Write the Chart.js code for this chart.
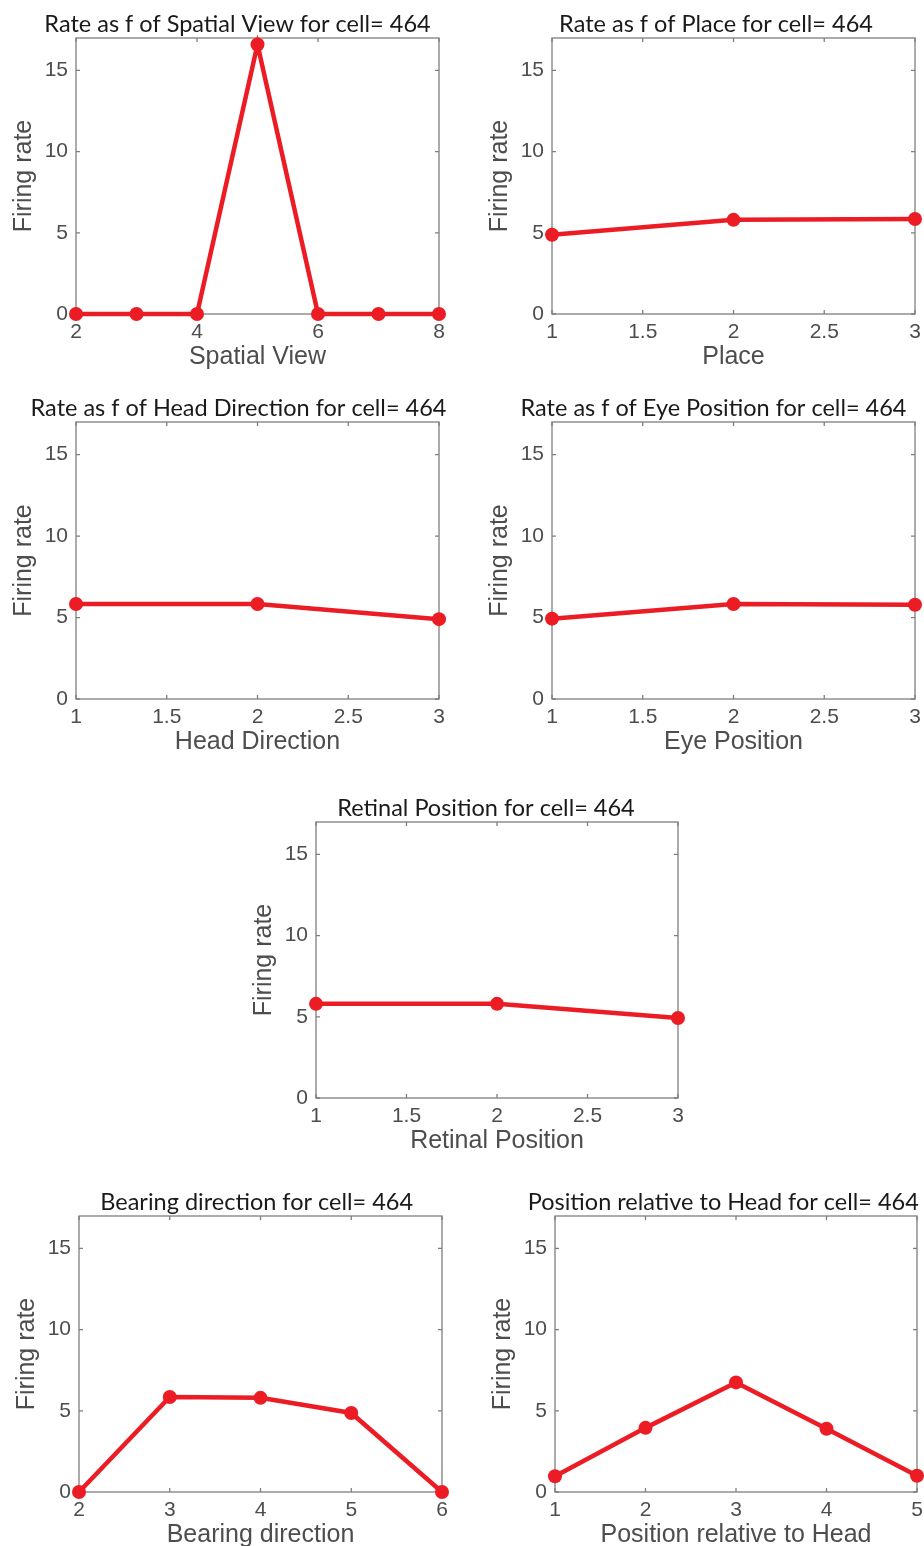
<!DOCTYPE html>
<html>
<head>
<meta charset="utf-8">
<script src="https://cdn.jsdelivr.net/npm/chart.js@4.4.0/dist/chart.umd.min.js"></script>
<style>
  html, body { margin: 0; padding: 0; background: #fff; overflow: hidden; }
  body { width: 924px; height: 1546px; position: relative; }
  canvas { position: absolute; }
</style>
</head>
<body>
<script>
// values (cell 464)
const spatialViewX = [2, 3, 4, 5, 6, 7, 8];
const spatialViewRate = [0, 0, 0, 16.6, 0, 0, 0];

const placeX = [1, 2, 3];
const placeRate = [4.88, 5.8, 5.85];

const headDirX = [1, 2, 3];
const headDirRate = [5.83, 5.83, 4.9];

const eyePosX = [1, 2, 3];
const eyePosRate = [4.93, 5.83, 5.78];

const retinalX = [1, 2, 3];
const retinalRate = [5.8, 5.8, 4.93];

const bearingX = [2, 3, 4, 5, 6];
const bearingRate = [0, 5.85, 5.8, 4.87, 0];

const relHeadX = [1, 2, 3, 4, 5];
const relHeadRate = [0.97, 3.95, 6.75, 3.9, 1.0];

const yTicks = [0, 5, 10, 15];
const yMax = 17;

// panels: text + which arrays, then where the axes box sits on the page
const panels = [
  { title: 'Rate as f of Spatial View for cell= 464', xLabel: 'Spatial View', xs: spatialViewX, ys: spatialViewRate, xMin: 2, xMax: 8, xStep: 2, box: [76, 38, 439, 314], tc: 237.5 },
  { title: 'Rate as f of Place for cell= 464', xLabel: 'Place', xs: placeX, ys: placeRate, xMin: 1, xMax: 3, xStep: 0.5, box: [552, 38, 915, 314], tc: 716 },
  { title: 'Rate as f of Head Direction for cell= 464', xLabel: 'Head Direction', xs: headDirX, ys: headDirRate, xMin: 1, xMax: 3, xStep: 0.5, box: [76, 422, 439, 699], tc: 238.5 },
  { title: 'Rate as f of Eye Position for cell= 464', xLabel: 'Eye Position', xs: eyePosX, ys: eyePosRate, xMin: 1, xMax: 3, xStep: 0.5, box: [552, 422, 915, 699], tc: 713.5 },
  { title: 'Retinal Position for cell= 464', xLabel: 'Retinal Position', xs: retinalX, ys: retinalRate, xMin: 1, xMax: 3, xStep: 0.5, box: [316, 822, 678, 1098], tc: 486 },
  { title: 'Bearing direction for cell= 464', xLabel: 'Bearing direction', xs: bearingX, ys: bearingRate, xMin: 2, xMax: 6, xStep: 1, box: [79, 1216, 442, 1492], tc: 256.7 },
  { title: 'Position relative to Head for cell= 464', xLabel: 'Position relative to Head', xs: relHeadX, ys: relHeadRate, xMin: 1, xMax: 5, xStep: 1, box: [555, 1216, 917, 1492], tc: 723.3 }
];

const RED = '#ec1c24';
const AXIS = '#7f7f7f';
const TXT = '#4d4d4d';
const Wy = 68;   // y axis strip width
const Hx = 60;   // x axis strip height
const TITLE_H = 36;

// matlab-ish box with inward ticks on all four sides
const matlabBox = {
  id: 'matlabBox',
  beforeDatasetsDraw(chart) {
    const { ctx, chartArea: { left, right, top, bottom }, scales: { x, y } } = chart;
    ctx.save();
    ctx.strokeStyle = AXIS;
    ctx.lineWidth = 1.3;
    ctx.strokeRect(left, top, right - left, bottom - top);
    ctx.beginPath();
    x.ticks.forEach(t => {
      const px = x.getPixelForValue(t.value);
      ctx.moveTo(px, bottom); ctx.lineTo(px, bottom - 4);
      ctx.moveTo(px, top); ctx.lineTo(px, top + 4);
    });
    y.ticks.forEach(t => {
      const py = y.getPixelForValue(t.value);
      ctx.moveTo(left, py); ctx.lineTo(left + 4, py);
      ctx.moveTo(right, py); ctx.lineTo(right - 4, py);
    });
    ctx.stroke();
    ctx.restore();
  }
};

// title centred where the figure has it (not always over the axes)
const panelTitle = {
  id: 'panelTitle',
  afterDraw(chart, args, opts) {
    const { ctx, chartArea } = chart;
    ctx.save();
    ctx.font = '23.5px Lato';
    ctx.fillStyle = '#1a1a1a';
    ctx.textAlign = 'center';
    ctx.textBaseline = 'alphabetic';
    ctx.fillText(opts.text, opts.x, chartArea.top - 6);
    ctx.restore();
  }
};

panels.forEach(p => {
  const [pl, pt, pr, pb] = p.box;
  const cl = pl - Wy;
  const cr = Math.max(pr + 12, 2 * p.tc - cl);
  const cv = document.createElement('canvas');
  cv.width = Math.round(cr - cl);
  cv.height = Math.round((pb - pt) + TITLE_H + Hx);
  cv.style.left = cl + 'px';
  cv.style.top = (pt - TITLE_H) + 'px';
  document.body.appendChild(cv);

  new Chart(cv, {
    type: 'line',
    data: {
      datasets: [{
        data: p.xs.map((v, i) => ({ x: v, y: p.ys[i] })),
        borderColor: RED,
        backgroundColor: RED,
        borderWidth: 4.5,
        pointRadius: 7,
        pointBorderWidth: 0,
        pointBackgroundColor: RED,
        tension: 0,
        clip: false
      }]
    },
    options: {
      responsive: false,
      animation: false,
      layout: { padding: { left: 0, right: cv.width - (pr - cl), top: TITLE_H, bottom: 0 } },
      plugins: {
        legend: { display: false },
        tooltip: { enabled: false },
        title: { display: false },
        panelTitle: { text: p.title, x: p.tc - cl }
      },
      scales: {
        x: {
          type: 'linear',
          min: p.xMin,
          max: p.xMax,
          afterFit: s => { s.height = Hx; },
          grid: { display: false, drawTicks: false },
          border: { display: false },
          ticks: {
            stepSize: p.xStep,
            autoSkip: false,
            maxRotation: 0,
            color: TXT,
            padding: 6,
            font: { family: 'Liberation Sans', size: 21 },
            callback: v => String(Number(v.toFixed(2)))
          },
          title: {
            display: true,
            text: p.xLabel,
            color: TXT,
            font: { family: 'Liberation Sans', size: 25 },
            padding: { top: 0, bottom: 2 }
          }
        },
        y: {
          min: 0,
          max: yMax,
          afterFit: s => { s.width = Wy; },
          afterBuildTicks: s => { s.ticks = yTicks.map(v => ({ value: v })); },
          grid: { display: false, drawTicks: false },
          border: { display: false },
          ticks: {
            color: TXT,
            padding: 8,
            font: { family: 'Liberation Sans', size: 21 }
          },
          title: {
            display: true,
            text: 'Firing rate',
            color: TXT,
            font: { family: 'Liberation Sans', size: 25 },
            padding: { top: 1, bottom: 0 }
          }
        }
      }
    },
    plugins: [matlabBox, panelTitle]
  });
});
</script>
</body>
</html>
